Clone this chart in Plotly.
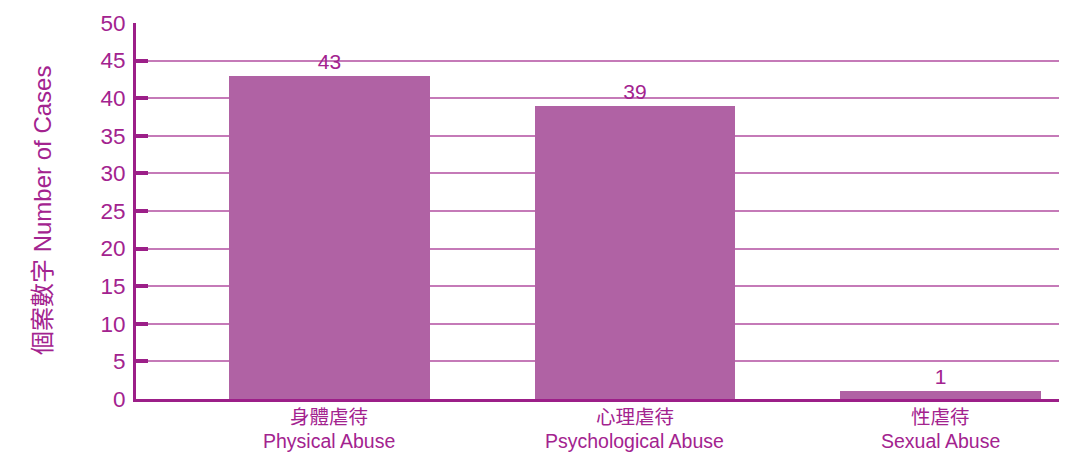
import plotly.graph_objects as go

categories_zh = ["身體虐待", "心理虐待", "性虐待"]
categories_en = ["Physical Abuse", "Psychological Abuse", "Sexual Abuse"]
values = [43, 39, 1]
y_ticks = [0, 5, 10, 15, 20, 25, 30, 35, 40, 45, 50]

labels = [f"{z}<br>{e}" for z, e in zip(categories_zh, categories_en)]

TEXT = "#a3238f"
AXIS = "#9c1f88"
GRID = "#c57ab8"
BAR = "#b062a4"
FONT = "Liberation Sans, Arial, Noto Sans CJK TC, sans-serif"

fig = go.Figure()
fig.add_trace(go.Bar(
    x=labels, y=values, width=0.656,
    marker=dict(color=BAR, line=dict(width=0)),
    text=[str(v) for v in values], textposition="outside",
    textfont=dict(size=21, color=TEXT, family=FONT),
    cliponaxis=False,
))

fig.update_layout(
    width=1067, height=444,
    margin=dict(l=128, r=0, t=15, b=53),
    plot_bgcolor="white", paper_bgcolor="white",
    showlegend=False,
    font=dict(family=FONT, color=TEXT),
    bargap=0,
)
fig.update_xaxes(
    type="category", range=[-0.633, 2.44], automargin=False,
    showline=True, linecolor=AXIS, linewidth=3,
    showgrid=False, ticks="", showticklabels=False,
)
fig.update_yaxes(
    range=[0, 50], tickvals=y_ticks, automargin=False,
    showline=True, linecolor=AXIS, linewidth=3,
    showgrid=True, gridcolor=GRID, gridwidth=2,
    zeroline=False,
    ticks="inside", ticklen=12, tickwidth=4, tickcolor=AXIS,
    ticklabelstandoff=3,
    tickfont=dict(size=22.5, color=TEXT, family=FONT),
)
for lab, zh, en in zip(labels, categories_zh, categories_en):
    fig.add_annotation(x=lab, y=0, xref="x", yref="paper", text=zh,
                       showarrow=False, yanchor="middle", yshift=-18,
                       font=dict(size=19.5, color=TEXT, family=FONT))
    fig.add_annotation(x=lab, y=0, xref="x", yref="paper", text=en,
                       showarrow=False, yanchor="middle", yshift=-42,
                       font=dict(size=19.5, color=TEXT, family=FONT))
fig.add_annotation(
    text="個案數字 Number of Cases", xref="paper", yref="paper",
    x=0, y=0.5, xshift=-94, xanchor="center", yanchor="middle",
    textangle=-90, showarrow=False,
    font=dict(size=24, color=TEXT, family=FONT),
)

fig.write_html("out.html")
